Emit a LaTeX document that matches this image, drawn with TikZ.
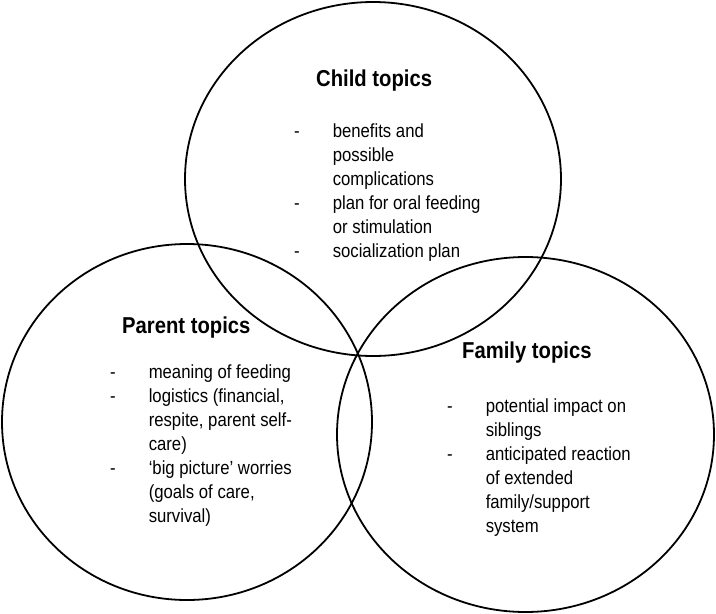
\documentclass[tikz,border=0pt]{standalone}
\usepackage{xcolor}
\usepackage{tikz}
\usepackage{fontspec}
\setmainfont{Liberation Sans}[FakeStretch=0.88]

\begin{document}
\begin{tikzpicture}[x=1pt, y=-1pt,
  ring/.style={line width=1.8pt},
  head/.style={anchor=base west, inner sep=0pt, font=\fontsize{23}{28}\selectfont\bfseries},
  items/.style={anchor=base west, inner sep=0pt, font=\fontsize{19}{24}\selectfont}]
  \useasboundingbox (0,0) rectangle (716,614);
  % the three topic circles
  \draw[ring] (373,179) ellipse [x radius=188pt, y radius=177pt];
  \draw[ring] (187,422) ellipse [x radius=185pt, y radius=178pt];
  \draw[ring] (525.5,434.5) ellipse [x radius=188.5pt, y radius=177.5pt];
  % child
  \node[head] (childhead) at (316,86) {Child topics};
  \node[items] (childlist) at (294,137) {\begin{tabular}[t]{@{}l@{\hspace{33pt}}l@{}}
    - & benefits and\\
      & possible\\
      & complications\\
    - & plan for oral feeding\\
      & or stimulation\\
    - & socialization plan
  \end{tabular}};
  % parent
  \node[head] (parenthead) at (122,333) {Parent topics};
  \node[items] (parentlist) at (110,378) {\begin{tabular}[t]{@{}l@{\hspace{33pt}}l@{}}
    - & meaning of feeding\\
    - & logistics (financial,\\
      & respite, parent self-\\
      & care)\\
    - & ‘big picture’ worries\\
      & (goals of care,\\
      & survival)
  \end{tabular}};
  % family
  \node[head] (familyhead) at (462,358) {Family topics};
  \node[items] (familylist) at (447,412) {\begin{tabular}[t]{@{}l@{\hspace{33pt}}l@{}}
    - & potential impact on\\
      & siblings\\
    - & anticipated reaction\\
      & of extended\\
      & family/support\\
      & system
  \end{tabular}};
\end{tikzpicture}
\end{document}
